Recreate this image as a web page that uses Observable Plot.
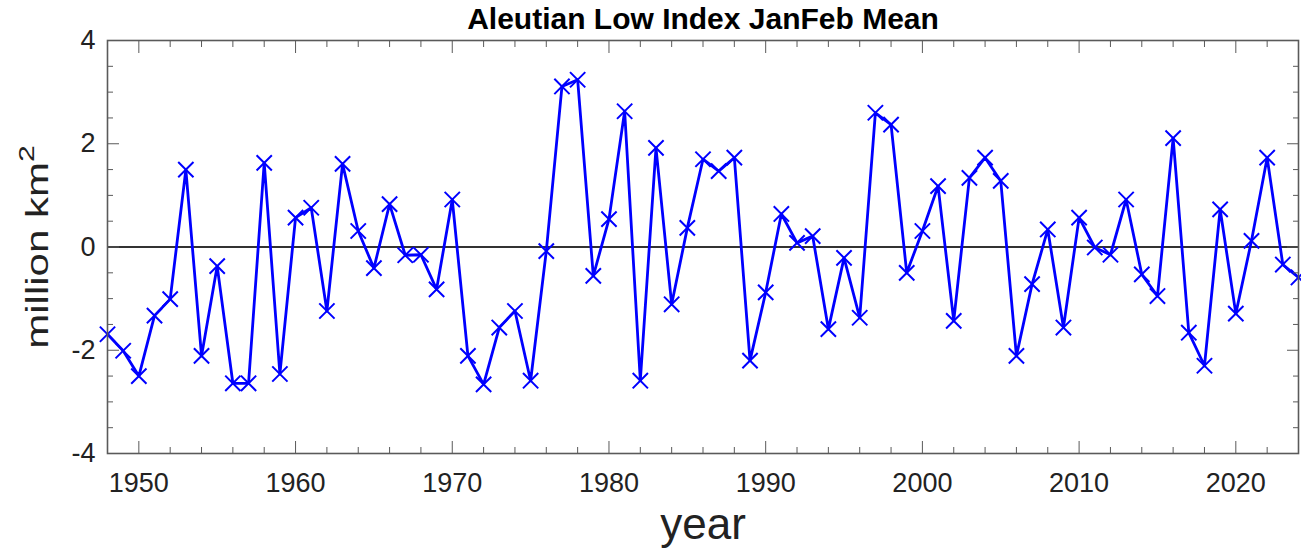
<!DOCTYPE html>
<html>
<head>
<meta charset="utf-8">
<script src="https://cdn.jsdelivr.net/npm/d3@7"></script>
<script src="https://cdn.jsdelivr.net/npm/@observablehq/plot@0.6"></script>
<style>
  html, body { margin: 0; padding: 0; background: white; }
  #chart svg { display: block; }
</style>
</head>
<body>
<div id="chart"></div>
<script>
const years = [
  1948, 1949, 1950, 1951, 1952, 1953, 1954, 1955, 1956, 1957,
  1958, 1959, 1960, 1961, 1962, 1963, 1964, 1965, 1966, 1967,
  1968, 1969, 1970, 1971, 1972, 1973, 1974, 1975, 1976, 1977,
  1978, 1979, 1980, 1981, 1982, 1983, 1984, 1985, 1986, 1987,
  1988, 1989, 1990, 1991, 1992, 1993, 1994, 1995, 1996, 1997,
  1998, 1999, 2000, 2001, 2002, 2003, 2004, 2005, 2006, 2007,
  2008, 2009, 2010, 2011, 2012, 2013, 2014, 2015, 2016, 2017,
  2018, 2019, 2020, 2021, 2022, 2023, 2024
];
const values = [
  -1.69, -2.01, -2.50, -1.33, -1.01, 1.50, -2.11, -0.37, -2.64, -2.64,
  1.63, -2.46, 0.57, 0.76, -1.24, 1.61, 0.31, -0.41, 0.83, -0.16,
  -0.15, -0.82, 0.92, -2.11, -2.66, -1.56, -1.24, -2.59, -0.08, 3.11,
  3.24, -0.56, 0.54, 2.63, -2.59, 1.92, -1.11, 0.37, 1.70, 1.47,
  1.73, -2.20, -0.88, 0.64, 0.08, 0.21, -1.59, -0.21, -1.37, 2.60,
  2.37, -0.50, 0.31, 1.18, -1.43, 1.34, 1.73, 1.28, -2.11, -0.72,
  0.34, -1.56, 0.57, -0.01, -0.15, 0.92, -0.53, -0.95, 2.11, -1.66,
  -2.30, 0.73, -1.29, 0.12, 1.73, -0.34, -0.59
];
const xMajorTicks = [1950, 1960, 1970, 1980, 1990, 2000, 2010, 2020];
const xMinorTicks = [1948, 1952, 1954, 1956, 1958, 1962, 1964, 1966, 1968, 1972, 1974, 1976, 1978,
  1982, 1984, 1986, 1988, 1992, 1994, 1996, 1998, 2002, 2004, 2006, 2008, 2012, 2014, 2016, 2018, 2022, 2024];
const yMajorTicks = [-4, -2, 0, 2, 4];
const yMinorTicks = [-3.5, -3, -2.5, -1.5, -1, -0.5, 0.5, 1, 1.5, 2.5, 3, 3.5];
const titleText = ["Aleutian Low Index JanFeb Mean"];
const xLabel = ["year"];
const yLabelBase = "million km";
const yLabelSup = "2";
const yLabel = [yLabelBase + yLabelSup];

const data = years.map((year, i) => ({year, value: values[i]}));
const blank = () => "";
const axisColor = "#5a5a5a";

const chart = Plot.plot({
  width: 1301,
  height: 551,
  marginLeft: 107,
  marginRight: 3,
  marginTop: 40,
  marginBottom: 98,
  style: {fontFamily: "'Liberation Sans', Arial, Helvetica, sans-serif", background: "white", color: "#222"},
  x: {domain: [1948, 2024]},
  y: {domain: [-4, 4]},
  marks: [
    Plot.ruleY([0], {stroke: "#333", strokeWidth: 2}),
    Plot.line(data, {x: "year", y: "value", stroke: "#0000ff", strokeWidth: 2.8}),
    Plot.dot(data, {x: "year", y: "value", symbol: "times", r: 7, stroke: "#0000ff", strokeWidth: 2}),
    Plot.frame({stroke: axisColor, strokeWidth: 1.6}),
    // inward ticks: bottom and top
    Plot.axisX({anchor: "bottom", ticks: xMajorTicks, tickSize: -12, tickFormat: blank, label: null, stroke: axisColor}),
    Plot.axisX({anchor: "bottom", ticks: xMinorTicks, tickSize: -6, tickFormat: blank, label: null, stroke: axisColor}),
    Plot.axisX({anchor: "top", ticks: xMajorTicks, tickSize: -12, tickFormat: blank, label: null, stroke: axisColor}),
    Plot.axisX({anchor: "top", ticks: xMinorTicks, tickSize: -6, tickFormat: blank, label: null, stroke: axisColor}),
    // inward ticks: left and right
    Plot.axisY({anchor: "left", ticks: yMajorTicks, tickSize: -12, tickFormat: blank, label: null, stroke: axisColor}),
    Plot.axisY({anchor: "left", ticks: yMinorTicks, tickSize: -6, tickFormat: blank, label: null, stroke: axisColor}),
    Plot.axisY({anchor: "right", ticks: yMajorTicks, tickSize: -12, tickFormat: blank, label: null, stroke: axisColor}),
    Plot.axisY({anchor: "right", ticks: yMinorTicks, tickSize: -6, tickFormat: blank, label: null, stroke: axisColor}),
    // tick labels
    Plot.axisX({anchor: "bottom", ticks: xMajorTicks, tickSize: 0, tickPadding: 19, tickFormat: d => String(d), label: null, fontSize: 27, fill: "#222"}),
    Plot.axisY({anchor: "left", ticks: yMajorTicks, tickSize: 0, tickPadding: 12, tickFormat: d => String(d), label: null, fontSize: 27, fill: "#222"}),
    // title and axis labels
    Plot.text(titleText, {frameAnchor: "top", dy: -12, lineAnchor: "bottom", fontSize: 30, fontWeight: "bold", fill: "#000"}),
    Plot.text(xLabel, {frameAnchor: "bottom", dy: 85, lineAnchor: "bottom", fontSize: 44, fill: "#222"}),
    Plot.text(yLabel, {frameAnchor: "left", dx: -70, rotate: -90, textAnchor: "middle", lineAnchor: "middle", fontSize: 42, fill: "#222", className: "ylabel"})
  ]
});
// Rotated label: narrower glyphs across the text, and a raised superscript "2".
d3.select(chart).selectAll(".ylabel text").each(function() {
  const t = this.getAttribute("transform") || "";
  this.setAttribute("transform", t + " scale(1,0.75)");
  const sel = d3.select(this);
  sel.text(null);
  sel.append("tspan").text(yLabelBase);
  sel.append("tspan").attr("font-size", "0.72em").attr("dy", "-0.62em").text(yLabelSup);
});
document.getElementById("chart").appendChild(chart);
</script>
</body>
</html>
